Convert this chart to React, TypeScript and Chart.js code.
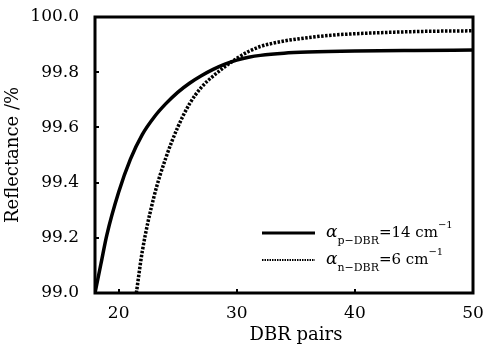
import React, { useEffect, useRef } from 'react';
import { Chart, registerables } from 'chart.js';

Chart.register(...registerables);

// p-DBR (alpha = 14 cm^-1), solid line
const pPairs = [18, 18.5, 19, 20, 21, 22, 23, 24, 25, 26, 27, 28, 29, 30, 31, 32, 34, 36, 40, 45, 50];
const pReflect = [99.0, 99.105, 99.21, 99.365, 99.485, 99.574, 99.637, 99.686, 99.727, 99.76, 99.787, 99.81, 99.829, 99.844, 99.854, 99.861, 99.869, 99.873, 99.877, 99.879, 99.88];

// n-DBR (alpha = 6 cm^-1), dotted line
const nPairs = [21.5, 22, 23, 24, 25, 26, 27, 28, 29, 30, 31, 32, 34, 36, 38, 42, 46, 50];
const nReflect = [99.0, 99.15, 99.35, 99.49, 99.6, 99.685, 99.745, 99.786, 99.82, 99.85, 99.875, 99.893, 99.913, 99.925, 99.934, 99.943, 99.948, 99.95];

const xTicks = [20, 30, 40, 50];
const yTicks = [99.0, 99.2, 99.4, 99.6, 99.8, 100.0];

const xTitle = 'DBR pairs';
const yTitle = 'Reflectance /%';

const legendLabels = [
  { sub: 'p\u2212DBR', rest: '=14 cm', sup: '\u22121' },
  { sub: 'n\u2212DBR', rest: '=6 cm', sup: '\u22121' },
];

const SERIF = '"DejaVu Serif", serif';

const framePlugin = {
  id: 'frameAndLegend',
  afterDatasetsDraw(chart: any) {
    const { ctx, chartArea: a, scales } = chart;
    ctx.save();
    ctx.strokeStyle = '#000';
    ctx.fillStyle = '#000';
    ctx.lineWidth = 3;
    ctx.strokeRect(a.left, a.top, a.right - a.left, a.bottom - a.top);
    // inward tick marks
    ctx.lineWidth = 2;
    ctx.beginPath();
    for (const v of yTicks.slice(1, -1)) {
      const y = Math.round(scales.y.getPixelForValue(v));
      ctx.moveTo(a.left, y);
      ctx.lineTo(a.left + 4, y);
    }
    for (const v of xTicks.slice(0, -1)) {
      const x = Math.round(scales.x.getPixelForValue(v));
      ctx.moveTo(x, a.bottom);
      ctx.lineTo(x, a.bottom - 4);
    }
    ctx.stroke();

    // x axis title
    ctx.font = '18px ' + SERIF;
    ctx.textAlign = 'center';
    ctx.textBaseline = 'alphabetic';
    ctx.fillText(xTitle, (a.left + a.right) / 2 + 12, a.bottom + 47);

    // legend
    const lineStart = a.right - 211;
    const lineEnd = a.right - 158;
    const textX = a.right - 147;
    const baselines = [a.bottom - 56, a.bottom - 29];
    legendLabels.forEach((lab, i) => {
      const b = baselines[i];
      ctx.beginPath();
      if (i === 0) {
        ctx.lineWidth = 3;
        ctx.setLineDash([]);
      } else {
        ctx.lineWidth = 2;
        ctx.setLineDash([1.5, 1]);
      }
      ctx.moveTo(lineStart, b - 4);
      ctx.lineTo(lineEnd, b - 4);
      ctx.stroke();
      ctx.setLineDash([]);
      ctx.textBaseline = 'alphabetic';
      ctx.textAlign = 'left';
      let x = textX;
      ctx.font = 'italic 17px ' + SERIF;
      ctx.fillText('\u03b1', x, b);
      x += ctx.measureText('\u03b1').width;
      ctx.font = '11px ' + SERIF;
      ctx.fillText(lab.sub, x, b + 7);
      x += ctx.measureText(lab.sub).width;
      ctx.font = '15px ' + SERIF;
      ctx.fillText(lab.rest, x, b);
      x += ctx.measureText(lab.rest).width;
      ctx.font = '10px ' + SERIF;
      ctx.fillText(lab.sup, x, b - 9);
    });
    ctx.restore();
  },
};

export default function App() {
  const ref = useRef<HTMLCanvasElement | null>(null);

  useEffect(() => {
    if (!ref.current) return;
    const chart = new Chart(ref.current, {
      type: 'line',
      data: {
        datasets: [
          {
            label: 'p-DBR',
            data: pPairs.map((x, i) => ({ x, y: pReflect[i] })),
            borderColor: '#000',
            borderWidth: 3.5,
            pointRadius: 0,
            cubicInterpolationMode: 'monotone',
            fill: false,
          },
          {
            label: 'n-DBR',
            data: nPairs.map((x, i) => ({ x, y: nReflect[i] })),
            borderColor: '#000',
            borderWidth: 3.5,
            borderDash: [2.5, 1.5],
            pointRadius: 0,
            cubicInterpolationMode: 'monotone',
            fill: false,
          },
        ],
      },
      options: {
        animation: false,
        responsive: true,
        maintainAspectRatio: false,
        layout: { padding: { top: 17, right: 11, left: 0, bottom: 0 } },
        plugins: { legend: { display: false }, tooltip: { enabled: false } },
        scales: {
          x: {
            type: 'linear',
            min: 18,
            max: 50,
            grid: { display: false },
            border: { display: false },
            afterBuildTicks: (scale: any) => {
              scale.ticks = xTicks.map((v) => ({ value: v }));
            },
            afterFit: (scale: any) => {
              scale.height = 52;
              scale.paddingLeft = 0;
              scale.paddingRight = 0;
            },
            ticks: {
              color: '#000',
              padding: 2,
              maxRotation: 0,
              font: { family: SERIF, size: 17 },
            },
            title: { display: false },
          },
          y: {
            type: 'linear',
            min: 99.0,
            max: 100.0,
            grid: { display: false },
            border: { display: false },
            afterBuildTicks: (scale: any) => {
              scale.ticks = yTicks.map((v) => ({ value: v }));
            },
            afterFit: (scale: any) => {
              scale.width = 95;
              scale.paddingTop = 0;
              scale.paddingBottom = 0;
            },
            ticks: {
              color: '#000',
              padding: 8,
              font: { family: SERIF, size: 17 },
              callback: (v: any) => Number(v).toFixed(1),
            },
            title: {
              display: true,
              text: yTitle,
              color: '#000',
              font: { family: SERIF, size: 18 },
              padding: { top: 3, bottom: 0 },
            },
          },
        },
      } as any,
      plugins: [framePlugin],
    });
    return () => chart.destroy();
  }, []);

  return (
    <div style={{ position: 'fixed', left: 0, top: 0, width: 484, height: 345, background: '#fff' }}>
      <canvas ref={ref} />
    </div>
  );
}
